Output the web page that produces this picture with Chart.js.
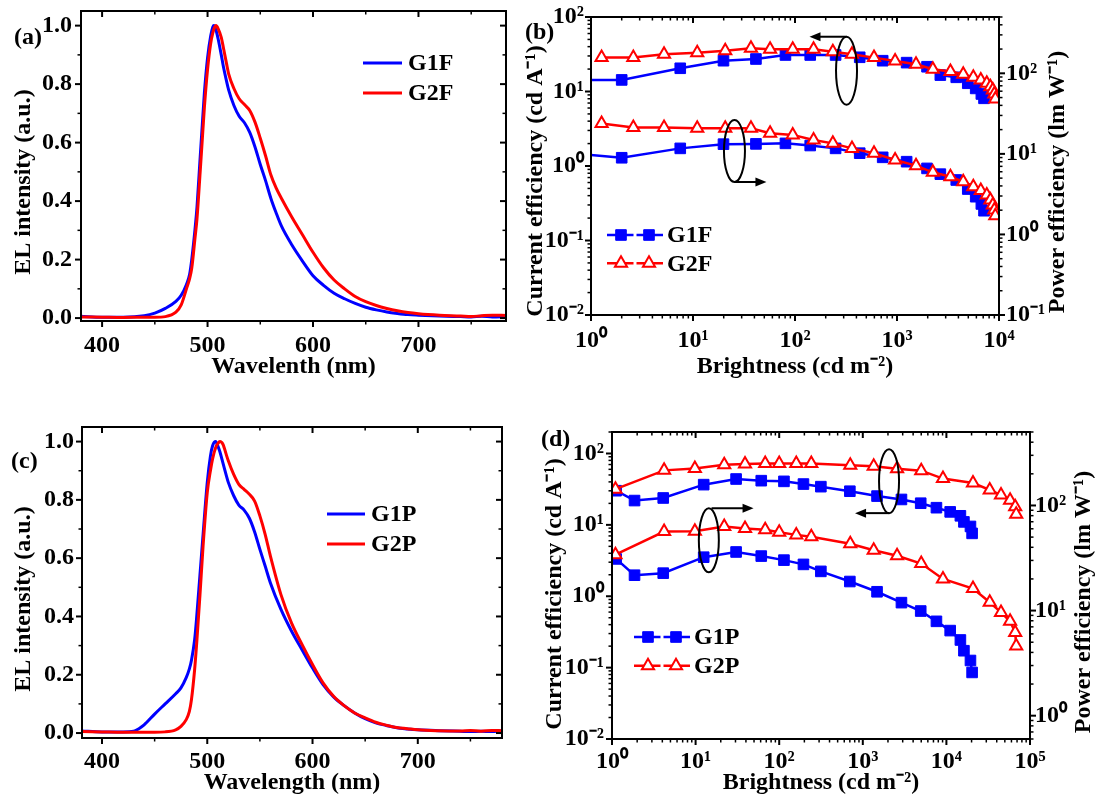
<!DOCTYPE html>
<html>
<head>
<meta charset="utf-8">
<script src="https://cdn.jsdelivr.net/npm/chart.js@4.4.1/dist/chart.umd.min.js"></script>
<style>
  html, body { margin: 0; padding: 0; background: #fff; }
  body { width: 1099px; height: 803px; position: relative; overflow: hidden; }
  canvas { position: absolute; }
</style>
</head>
<body>
<canvas id="pa" width="520" height="390" style="left:0;top:0"></canvas>
<canvas id="pb" width="579" height="390" style="left:520px;top:0"></canvas>
<canvas id="pc" width="520" height="403" style="left:0;top:400px"></canvas>
<canvas id="pd" width="579" height="403" style="left:520px;top:400px"></canvas>
<script>
// ---- data: EL spectra ----
const wlA = [380, 400, 420, 440, 450, 460, 470, 475, 480, 483, 485, 488, 490, 493, 495, 497, 500, 503, 505, 506,
  508, 510, 513, 515, 518, 520, 525, 530, 535, 540, 545, 550, 555, 560, 565, 570, 580, 590, 600, 610,
  620, 630, 640, 650, 660, 670, 680, 690, 700, 720, 740, 750, 760, 770, 783];
const g1fEL = [0.006, 0.003, 0.003, 0.008, 0.017, 0.033, 0.057, 0.078, 0.115, 0.15, 0.2, 0.3, 0.38, 0.55, 0.66, 0.77, 0.89, 0.965, 0.995, 1.0,
  0.985, 0.955, 0.9, 0.86, 0.81, 0.78, 0.727, 0.69, 0.668, 0.635, 0.585, 0.525, 0.47, 0.41, 0.36, 0.315, 0.25, 0.195, 0.145, 0.112,
  0.085, 0.066, 0.05, 0.037, 0.028, 0.021, 0.016, 0.012, 0.01, 0.007, 0.005, 0.004, 0.006, 0.004, 0.005];
const g2fEL = [0.004, 0.003, 0.002, 0.003, 0.003, 0.005, 0.02, 0.045, 0.1, 0.135, 0.17, 0.27, 0.34, 0.5, 0.61, 0.72, 0.85, 0.94, 0.975, 0.988,
  1.0, 0.99, 0.96, 0.925, 0.87, 0.835, 0.785, 0.75, 0.73, 0.71, 0.67, 0.615, 0.555, 0.49, 0.445, 0.41, 0.345, 0.285, 0.225, 0.172,
  0.13, 0.1, 0.074, 0.056, 0.043, 0.033, 0.025, 0.019, 0.015, 0.01, 0.007, 0.005, 0.008, 0.01, 0.009];

const wlC = [380, 400, 420, 430, 435, 440, 450, 460, 470, 475, 480, 483, 485, 488, 490, 493, 496, 500, 503, 505,
  508, 510, 512, 515, 518, 520, 525, 530, 535, 540, 545, 550, 555, 560, 570, 580, 590, 600, 610, 620,
  630, 640, 650, 660, 670, 680, 690, 700, 720, 740, 750, 760, 770, 780];
const g1pEL = [0.007, 0.004, 0.004, 0.006, 0.015, 0.028, 0.065, 0.1, 0.135, 0.155, 0.19, 0.22, 0.25, 0.32, 0.4, 0.54, 0.68, 0.86, 0.95, 0.985,
  1.0, 0.985, 0.965, 0.925, 0.885, 0.86, 0.815, 0.782, 0.765, 0.737, 0.69, 0.63, 0.573, 0.515, 0.424, 0.35, 0.286, 0.223, 0.166, 0.124,
  0.094, 0.069, 0.049, 0.035, 0.026, 0.018, 0.014, 0.011, 0.008, 0.006, 0.005, 0.006, 0.005, 0.008];
const g2pEL = [0.005, 0.004, 0.003, 0.003, 0.003, 0.003, 0.003, 0.004, 0.011, 0.023, 0.046, 0.074, 0.115, 0.218, 0.31, 0.47, 0.64, 0.825, 0.9, 0.94,
  0.98, 0.993, 1.0, 0.99, 0.956, 0.934, 0.888, 0.853, 0.836, 0.819, 0.796, 0.745, 0.682, 0.607, 0.475, 0.378, 0.304, 0.235, 0.172, 0.126,
  0.094, 0.069, 0.052, 0.037, 0.027, 0.019, 0.015, 0.011, 0.008, 0.007, 0.009, 0.006, 0.009, 0.008];

// ---- data: efficiency vs brightness ----
const bG1F = [1, 2.0, 7.5, 19.9, 41.4, 80.6, 141, 250, 431, 724, 1243, 1970, 2660, 3810, 4940, 5910, 6715, 7130];
const ceG1F = [14.3, 14.3, 20.5, 25.9, 27.3, 30.9, 30.9, 30.9, 28.8, 25.9, 24.4, 21.5, 16.6, 15.5, 12.9, 11.0, 9.26, 8.1];
const peG1F = [9.7, 8.95, 11.7, 13.2, 13.3, 13.5, 12.7, 11.7, 10.2, 9.06, 8.0, 6.6, 5.6, 4.74, 3.66, 2.94, 2.39, 1.97];
const bG2F = [1.27, 2.6, 5.2, 11, 20.7, 37, 57, 95, 152, 235, 362, 595, 958, 1536, 2247, 3340, 4460, 5600, 6630, 7590, 8230, 8700, 9000, 9200];
const ceG2F = [28.5, 28.5, 31.6, 33.2, 35.3, 38.0, 36.8, 36.8, 36.8, 34.2, 31.6, 28.5, 25.7, 23.2, 19.9, 18.5, 17.0, 15.5, 14.3, 12.9, 11.6, 10.5, 9.25, 7.94];
const peG2F = [23.9, 21.2, 21.2, 20.8, 20.8, 20.8, 18.0, 17.2, 14.9, 13.5, 11.7, 10.2, 8.4, 7.14, 5.9, 5.2, 4.52, 3.92, 3.5, 3.09, 2.68, 2.32, 2.01, 1.7];

const bG1P = [1.12, 1.86, 4.1, 12.5, 30.5, 61, 114, 195, 315, 700, 1480, 2900, 4930, 7600, 11100, 14700, 16200, 19400, 20300];
const ceG1P = [30.1, 21.9, 23.8, 36.6, 43.9, 41.6, 40.7, 37.3, 34.3, 29.6, 25.3, 22.7, 20.1, 17.4, 15.2, 13.4, 11.0, 9.5, 7.6];
const peG1P = [31, 21.7, 22.7, 32.2, 36.1, 33, 30.2, 27.5, 23.6, 18.9, 15.1, 11.9, 9.9, 7.9, 6.45, 5.25, 4.15, 3.35, 2.58];
const bG2P = [1.1, 4.2, 9.8, 22, 39, 68, 100, 160, 242, 708, 1350, 2570, 5000, 9100, 20800, 33000, 45000, 57800, 66500, 68400];
const ceG2P = [31.6, 58, 61.5, 69.5, 71, 72.5, 72.5, 72.5, 72.5, 68.5, 66, 61, 57.5, 44.5, 38.7, 30.8, 26.2, 22.2, 18, 14.1];
const peG2P = [34, 56.5, 57, 63, 60.3, 58.8, 55.5, 52.5, 50.3, 43.3, 37.5, 33.2, 28, 20, 16.2, 12, 9.6, 7.9, 6.2, 4.6];

// ---- tick labels ----
const wlTicks = [400, 500, 600, 700];
const elTicks = [0.0, 0.2, 0.4, 0.6, 0.8, 1.0];

const FONT = "'Liberation Serif', 'Times New Roman', serif";
const FS = 24;
const BLUE = '#0000ff', RED = '#ff0000';
const SQ_R = 7.5, TRI_R = 7;
Chart.defaults.font.family = FONT;
Chart.defaults.font.weight = 'bold';
Chart.defaults.font.size = FS;
Chart.defaults.color = '#000';

const xy = (xs, ys) => xs.map((x, i) => ({ x, y: ys[i] }));
const inList = (list, v) => list.some(t => Math.abs(t - v) < 1e-6);
const SUP = { '-': '\u207B', '0': '\u2070', '1': '\u00B9', '2': '\u00B2', '3': '\u00B3', '4': '\u2074', '5': '\u2075' };
function pow10Label(v) {
  const e = Math.round(Math.log10(v));
  if (Math.abs(v / Math.pow(10, e) - 1) > 1e-6) return '';
  return '10' + String(e).split('').map(c => SUP[c]).join('');
}
// 1..9 x 10^n ticks inside the axis range
function logTicks(scale) {
  const out = [];
  const lo = Math.floor(Math.log10(scale.min) + 1e-9), hi = Math.ceil(Math.log10(scale.max) - 1e-9);
  for (let e = lo; e <= hi; e++) {
    for (let m = 1; m < 10; m++) {
      const v = m * Math.pow(10, e);
      if (v >= scale.min * (1 - 1e-9) && v <= scale.max * (1 + 1e-9)) out.push({ value: v });
    }
  }
  scale.ticks = out;
}
// evenly spaced ticks on round multiples of step
const linTicks = step => scale => {
  const out = [];
  for (let k = Math.ceil(scale.min / step - 1e-9); k * step <= scale.max + 1e-9; k++) {
    out.push({ value: Math.round(k * step * 1000) / 1000 });
  }
  scale.ticks = out;
};
const noPad = s => { s.paddingTop = s.paddingBottom = s.paddingLeft = s.paddingRight = 0; };
const fitW = w => s => { s.width = w; noPad(s); };
const fitH = h => s => { s.height = h; noPad(s); };
const noGrid = { display: false, drawTicks: false, drawOnChartArea: false };

function marker(ctx, style, x, y, r, fill, stroke, lw) {
  ctx.beginPath();
  if (style === 'rect') {
    const s = r * Math.SQRT1_2;
    ctx.rect(x - s, y - s, 2 * s, 2 * s);
  } else {
    const k = 2 * Math.PI / 3;
    for (let i = 0; i < 3; i++) {
      const a = i * k;
      ctx[i ? 'lineTo' : 'moveTo'](x + Math.sin(a) * r, y - Math.cos(a) * r);
    }
    ctx.closePath();
  }
  ctx.fillStyle = fill; ctx.fill();
  ctx.lineWidth = lw; ctx.strokeStyle = stroke; ctx.stroke();
}

// frame, tick marks, y titles, legend, panel tag, loop annotations
const deco = {
  id: 'deco',
  afterDatasetsDraw(chart, args, o) {
    const { ctx, chartArea: a, scales } = chart;
    ctx.save();
    ctx.strokeStyle = '#000';
    const mark = (scale, base, sign, horiz) => {
      scale.ticks.forEach(t => {
        const p = scale.getPixelForValue(t.value);
        const major = t.label !== '' && t.label != null;
        const len = major ? 6 : 3.5;
        ctx.lineWidth = major ? 2 : 1.5;
        ctx.beginPath();
        if (horiz) { ctx.moveTo(p, base); ctx.lineTo(p, base + sign * len); }
        else { ctx.moveTo(base, p); ctx.lineTo(base + sign * len, p); }
        ctx.stroke();
      });
    };
    mark(scales.x, a.bottom, 1, true);
    mark(scales.x, a.top, 1, true);
    mark(scales.y, a.left, -1, false);
    if (scales.y1) mark(scales.y1, a.right, 1, false);
    else mark(scales.y, a.right, -1, false);
    ctx.lineWidth = 2;
    ctx.strokeRect(a.left, a.top, a.right - a.left, a.bottom - a.top);
    ctx.restore();
  },
  afterDraw(chart, args, o) {
    const { ctx, scales } = chart;
    ctx.save();
    ctx.font = 'bold ' + FS + 'px ' + FONT;
    ctx.textBaseline = 'middle';
    ctx.textAlign = 'left';
    ctx.fillStyle = '#000';
    if (o.tag) ctx.fillText(o.tag.text, o.tag.x, o.tag.y);
    (o.titles || []).forEach(t => {
      ctx.save();
      ctx.translate(t.x, t.y);
      ctx.rotate(-Math.PI / 2);
      ctx.textAlign = 'center';
      ctx.fillText(t.text, 0, 0);
      ctx.restore();
    });
    if (o.legend) {
      const L = o.legend;
      L.labels.forEach((lab, i) => {
        const ds = chart.data.datasets.find(d => d.label === lab);
        const y = L.y + i * L.dy;
        ctx.strokeStyle = ds.borderColor;
        ctx.lineWidth = ds.borderWidth;
        ctx.beginPath();
        if (L.markers) {
          const h = L.len / 2;
          ctx.moveTo(L.x, y); ctx.lineTo(L.x + h - 1.5, y);
          ctx.moveTo(L.x + h + 1.5, y); ctx.lineTo(L.x + L.len, y);
        } else {
          ctx.moveTo(L.x, y); ctx.lineTo(L.x + L.len, y);
        }
        ctx.stroke();
        if (L.markers) {
          const r = ds.pointStyle === 'rect' ? SQ_R : TRI_R;
          [0.25, 0.75].forEach(f => marker(ctx, ds.pointStyle, L.x + L.len * f, y, r,
            ds.pointBackgroundColor, ds.pointBorderColor, ds.pointBorderWidth));
        }
        ctx.fillStyle = '#000';
        ctx.fillText(lab, L.x + L.len + L.pad, y + 1);
      });
    }
    (o.loops || []).forEach(e => {
      const cx = scales.x.getPixelForValue(e.x), cy = scales[e.axis].getPixelForValue(e.y);
      ctx.strokeStyle = '#000'; ctx.fillStyle = '#000'; ctx.lineWidth = 2;
      ctx.beginPath(); ctx.ellipse(cx, cy, e.rx, e.ry, 0, 0, 2 * Math.PI); ctx.stroke();
      const sx = cx + (e.ox || 0);
      const sy = e.from === 'top' ? cy - e.ry : cy + e.ry;
      const ex = sx + e.dx, d = Math.sign(e.dx);
      ctx.beginPath(); ctx.moveTo(sx, sy); ctx.lineTo(ex - d * 8, sy); ctx.stroke();
      ctx.beginPath(); ctx.moveTo(ex, sy); ctx.lineTo(ex - d * 11, sy - 4.5); ctx.lineTo(ex - d * 11, sy + 4.5);
      ctx.closePath(); ctx.fill();
    });
    ctx.restore();
  }
};

function spectrum(id, p) {
  return new Chart(document.getElementById(id), {
    type: 'scatter',
    data: {
      datasets: p.series.map(s => ({
        label: s.label, data: xy(p.wl, s.ys), borderColor: s.color, backgroundColor: s.color,
        borderWidth: 3, pointRadius: 0, showLine: true, cubicInterpolationMode: 'monotone'
      }))
    },
    options: {
      responsive: false, animation: false, events: [], devicePixelRatio: 1,
      layout: { padding: { left: 0, top: p.padTop, right: p.padRight, bottom: 0 } },
      scales: {
        x: {
          type: 'linear', min: p.xMin, max: p.xMax, bounds: 'data', grid: noGrid, border: { display: false },
          afterBuildTicks: linTicks(50),
          ticks: { autoSkip: false, maxRotation: 0, padding: p.xTickPad,
            callback: v => inList(wlTicks, v) ? String(v) : '' },
          title: { display: true, text: p.xTitle, padding: { top: 0, bottom: p.xTitlePad } },
          afterFit: fitH(p.bottomH)
        },
        y: {
          type: 'linear', min: p.yMin, max: 1.05, bounds: 'data', grid: noGrid, border: { display: false },
          afterBuildTicks: linTicks(0.1),
          ticks: { autoSkip: false, padding: p.yTickPad,
            callback: v => inList(elTicks, v) ? v.toFixed(1) : '' },
          afterFit: fitW(p.leftW)
        }
      },
      plugins: { legend: { display: false }, tooltip: { enabled: false }, deco: p.deco }
    },
    plugins: [deco]
  });
}

const sqStyle = b => ({
  borderColor: BLUE, backgroundColor: BLUE, borderWidth: 2.5, showLine: true,
  pointStyle: 'rect', pointRadius: b.map(v => v <= 1 ? 0 : SQ_R),
  pointBackgroundColor: BLUE, pointBorderColor: BLUE, pointBorderWidth: 1
});
const triStyle = {
  borderColor: RED, backgroundColor: '#fff', borderWidth: 2.5, showLine: true,
  pointStyle: 'triangle', pointRadius: TRI_R,
  pointBackgroundColor: '#fff', pointBorderColor: RED, pointBorderWidth: 2
};

function efficiency(id, p) {
  const logAxis = (min, max, extra) => Object.assign({
    type: 'logarithmic', min, max, bounds: 'data', grid: noGrid, border: { display: false },
    afterBuildTicks: logTicks
  }, extra);
  return new Chart(document.getElementById(id), {
    type: 'scatter',
    data: {
      datasets: [
        Object.assign({ label: p.names[1], data: xy(p.b2, p.ce2), yAxisID: 'y' }, triStyle),
        Object.assign({ label: p.names[1], data: xy(p.b2, p.pe2), yAxisID: 'y1' }, triStyle),
        Object.assign({ label: p.names[0], data: xy(p.b1, p.ce1), yAxisID: 'y' }, sqStyle(p.b1)),
        Object.assign({ label: p.names[0], data: xy(p.b1, p.pe1), yAxisID: 'y1' }, sqStyle(p.b1))
      ]
    },
    options: {
      responsive: false, animation: false, events: [], devicePixelRatio: 1,
      layout: { padding: { left: 0, top: p.padTop, right: 0, bottom: 0 } },
      scales: {
        x: logAxis(1, p.xMax, {
          ticks: { autoSkip: false, maxRotation: 0, padding: p.xTickPad, callback: pow10Label },
          title: { display: true, text: 'Brightness (cd m\u207B\u00B2)', padding: { top: 0, bottom: p.xTitlePad } },
          afterFit: fitH(p.bottomH)
        }),
        y: logAxis(0.01, p.ceMax, {
          position: 'left',
          ticks: { autoSkip: false, padding: p.yTickPad, callback: pow10Label },
          afterFit: fitW(p.leftW)
        }),
        y1: logAxis(p.peMin, 500, {
          position: 'right',
          ticks: { autoSkip: false, padding: p.y1TickPad, callback: pow10Label },
          afterFit: fitW(p.rightW)
        })
      },
      plugins: { legend: { display: false }, tooltip: { enabled: false }, deco: p.deco }
    },
    plugins: [deco]
  });
}

const CE_TITLE = 'Current efficiency (cd A\u207B\u00B9)';
const PE_TITLE = 'Power efficiency (lm W\u207B\u00B9)';
const EL_TITLE = 'EL intensity (a.u.)';

spectrum('pa', {
  wl: wlA, xMin: 380, xMax: 783, yMin: -0.01,
  series: [{ label: 'G2F', ys: g2fEL, color: RED }, { label: 'G1F', ys: g1fEL, color: BLUE }],
  leftW: 81, bottomH: 69, padTop: 11, padRight: 14,
  xTickPad: 10, yTickPad: 9, xTitlePad: 8.5, xTitle: 'Wavelenth (nm)',
  deco: {
    tag: { text: '(a)', x: 14, y: 38 },
    titles: [{ text: EL_TITLE, x: 24, y: 182 }],
    legend: { labels: ['G1F', 'G2F'], x: 363, y: 63, dy: 30, len: 39, pad: 6 }
  }
});

efficiency('pb', {
  names: ['G1F', 'G2F'],
  b1: bG1F, ce1: ceG1F, pe1: peG1F, b2: bG2F, ce2: ceG2F, pe2: peG2F,
  xMax: 1e4, ceMax: 100, peMin: 0.1,
  leftW: 71, rightW: 100, bottomH: 75, padTop: 17,
  xTickPad: 11, yTickPad: 7, y1TickPad: 7, xTitlePad: 9,
  deco: {
    tag: { text: '(b)', x: 5, y: 33 },
    titles: [{ text: CE_TITLE, x: 16, y: 181 }, { text: PE_TITLE, x: 538, y: 182 }],
    legend: { labels: ['G1F', 'G2F'], x: 87, y: 235, dy: 28.3, len: 56, pad: 4, markers: true },
    loops: [
      { x: 320, y: 19, axis: 'y', rx: 10.5, ry: 34, from: 'top', dx: -37 },
      { x: 25.5, y: 1.59, axis: 'y', rx: 10.5, ry: 31, from: 'bottom', dx: 32 }
    ]
  }
});

spectrum('pc', {
  wl: wlC, xMin: 381, xMax: 780, yMin: -0.017,
  series: [{ label: 'G2P', ys: g2pEL, color: RED }, { label: 'G1P', ys: g1pEL, color: BLUE }],
  leftW: 82, bottomH: 65, padTop: 27, padRight: 18,
  xTickPad: 9, yTickPad: 8, xTitlePad: 5.5, xTitle: 'Wavelength (nm)',
  deco: {
    tag: { text: '(c)', x: 11, y: 62 },
    titles: [{ text: EL_TITLE, x: 24, y: 199 }],
    legend: { labels: ['G1P', 'G2P'], x: 327, y: 114, dy: 30, len: 38, pad: 6 }
  }
});

efficiency('pd', {
  names: ['G1P', 'G2P'],
  b1: bG1P, ce1: ceG1P, pe1: peG1P, b2: bG2P, ce2: ceG2P, pe2: peG2P,
  xMax: 1e5, ceMax: 200, peMin: 0.6,
  leftW: 92, rightW: 69, bottomH: 64, padTop: 32,
  xTickPad: 8, yTickPad: 8, y1TickPad: 5, xTitlePad: 5.5,
  deco: {
    tag: { text: '(d)', x: 21, y: 40 },
    titles: [{ text: CE_TITLE, x: 35, y: 194 }, { text: PE_TITLE, x: 564, y: 202 }],
    legend: { labels: ['G1P', 'G2P'], x: 114, y: 237, dy: 28.7, len: 56, pad: 4, markers: true },
    loops: [
      { x: 2060, y: 41, axis: 'y', rx: 10, ry: 32, from: 'bottom', dx: -34 },
      { x: 14.4, y: 6.08, axis: 'y', rx: 10, ry: 32, from: 'top', dx: 42, ox: 2.7 }
    ]
  }
});
</script>
</body>
</html>
